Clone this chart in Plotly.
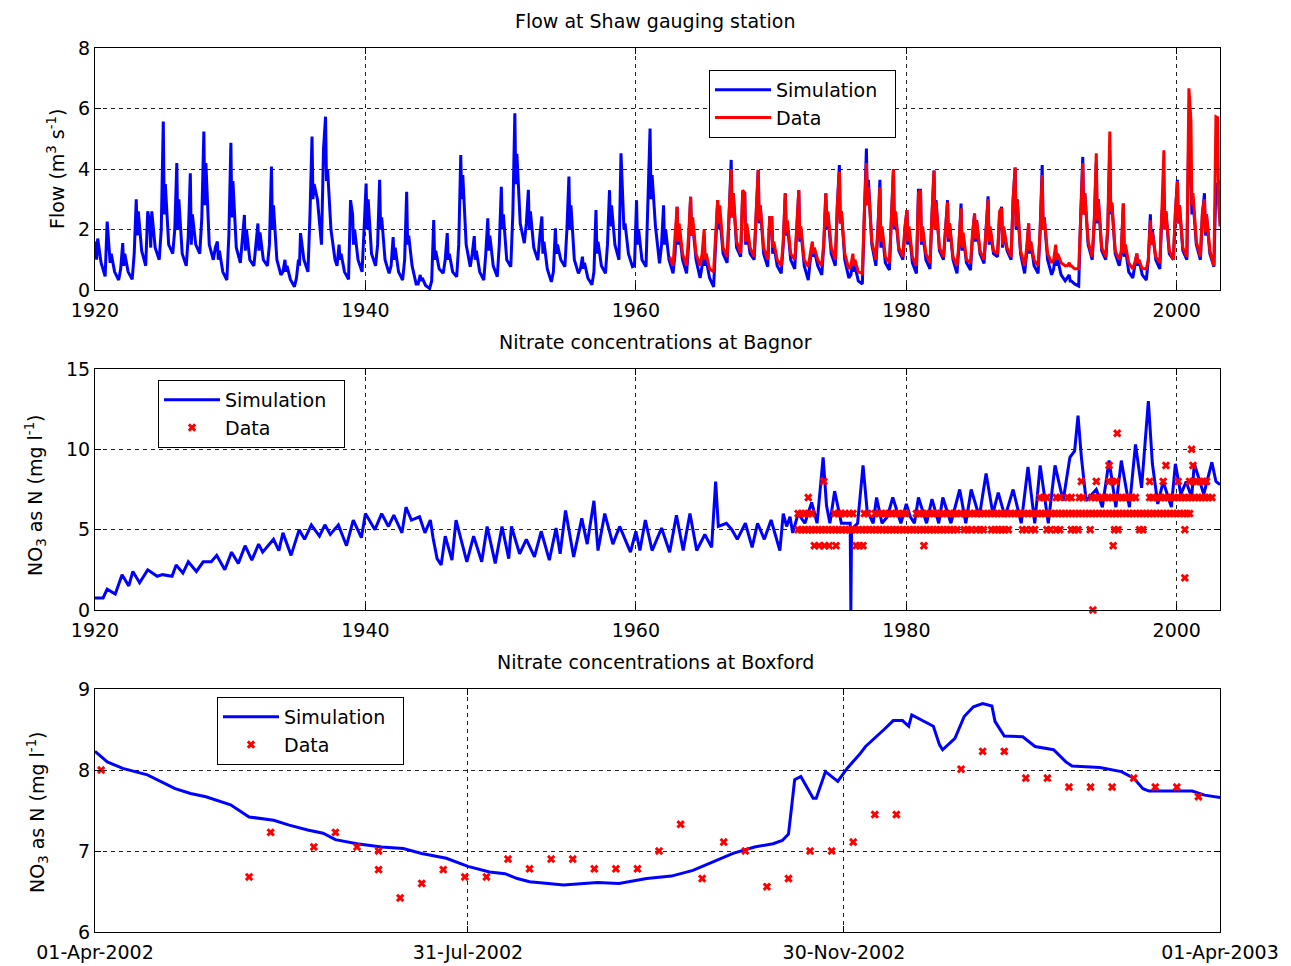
import plotly.graph_objects as go

# ---------------- Panel 1: Flow at Shaw (values read per hydrological year) ----------------
flow_years = list(range(1920, 2003))
# simulated flow: winter peak, dip, second peak, spring recession, autumn low, early-winter rise
sim_peak = [1.6,1.5,1.55,3.0,2.2,5.57,4.2,3.86,5.24,1.6, 4.87,2.48,2.2,4.08,1.0,1.0,5.07,5.73,1.5,2.5,
            3.52,3.64,1.75,3.25,0.5,2.31,1.88,4.46,1.78,2.37, 3.41,5.84,3.31,2.43,2.04,3.75,1.1,2.64,3.3,3.0,
            2.97,5.34,2.8,2.75,3.08,1.8,2.97,4.3,3.2,3.97, 2.4,3.2,3.3,1.5,3.2,4.13,1.0,4.68,3.64,4.0,
            2.64,3.3,3.95,2.97,2.86,2.53,3.1,2.75,4.05,2.2, 4.13,1.3,0.5,4.4,4.2,4.6,2.86,1.2,2.5,3.2,
            3.64,4.0,3.2]
sim_dip = [1.0,0.9,0.8,1.8,1.4,2.5,2.0,1.5,2.8,1.0, 2.4,1.3,1.3,2.0,0.6,0.8,3.0,3.6,1.0,1.5,
           2.0,2.0,1.0,1.5,0.3,1.0,1.0,3.0,1.0,1.3, 2.0,3.5,2.0,1.2,1.2,2.0,0.7,1.2,2.1,2.0,
           1.5,3.0,1.5,1.5,1.8,0.8,2.0,2.4,1.5,2.2, 1.2,1.8,1.6,1.1,2.0,2.2,0.6,3.0,1.4,2.0,
           1.5,1.5,2.0,1.6,1.3,1.6,1.5,1.4,2.0,1.2, 2.0,0.8,0.3,2.5,2.2,2.5,1.1,0.8,1.5,2.0,
           2.2,2.5,1.8]
sim_peak2 = [1.7,1.2,1.2,2.6,2.6,3.5,3.0,2.5,4.2,1.3, 3.6,2.0,1.9,2.8,0.8,1.88,3.5,4.0,1.2,2.0,
             3.0,2.4,1.4,1.8,0.4,1.3,1.2,3.8,1.3,1.8, 2.5,4.5,2.6,1.6,1.5,2.8,0.9,1.6,2.8,2.2,
             2.0,3.8,2.0,2.0,2.2,1.0,2.5,3.2,2.0,2.8, 1.5,2.2,2.0,1.3,2.5,2.6,0.8,3.64,2.0,2.5,
             2.0,2.0,2.97,2.2,1.8,2.3,2.0,2.0,3.0,1.6, 2.4,1.0,0.3,3.2,3.0,2.86,1.4,1.0,2.0,2.6,
             2.8,3.0,2.5]
sim_rec = [0.9,0.6,0.6,1.3,1.4,1.5,1.2,1.5,1.5,0.6, 1.4,1.0,1.0,1.0,0.35,1.0,3.0,2.0,0.6,1.0,
           1.2,1.0,0.6,0.8,0.15,0.7,0.6,1.5,0.6,0.8, 1.0,2.2,1.4,0.7,1.0,1.0,0.4,0.8,1.5,1.2,
           1.0,2.1,1.0,1.0,1.0,0.4,1.2,1.4,1.2,1.2, 0.8,1.0,0.8,0.8,1.2,1.0,0.3,1.5,0.9,1.3,
           0.9,1.0,1.3,1.0,0.9,1.2,1.2,1.3,1.2,0.8, 1.0,0.5,0.2,1.5,1.3,1.2,0.6,0.5,1.0,1.2,
           1.3,1.5,1.2]
sim_low = [0.45,0.33,0.35,0.8,1.0,1.2,0.8,1.2,1.0,0.33, 0.9,0.8,0.8,0.5,0.11,0.6,1.5,1.0,0.35,0.6,
           0.8,0.55,0.33,0.2,0.05,0.55,0.44,0.77,0.33,0.44, 0.77,1.55,0.99,0.27,0.77,0.55,0.17,0.55,1.0,0.77,
           0.77,0.88,0.55,0.55,0.4,0.1,0.9,1.1,1.0,0.77, 0.55,0.7,0.33,0.5,0.8,0.4,0.2,0.8,0.66,1.0,
           0.55,0.7,1.0,0.55,0.66,0.88,1.1,1.0,0.55,0.55, 0.5,0.3,0.13,1.0,1.0,0.8,0.4,0.33,0.7,1.0,
           1.0,1.0,0.77]
sim_rise = [2.26,0.7,1.2,2.6,2.0,2.0,1.8,2.4,1.4,1.8, 1.6,1.5,1.5,0.6,0.4,2.5,4.66,0.8,2.97,2.0,
            1.5,0.8,1.0,0.2,0.3,1.0,1.5,1.2,1.2,1.5, 2.5,2.2,1.8,0.6,2.0,0.7,0.6,1.5,4.52,0.8,
            3.5,1.5,1.2,1.5,0.8,1.5,2.5,3.2,2.5,2.4, 1.5,2.0,1.0,1.5,2.8,0.5,2.5,2.0,2.4,2.0,
            3.3,2.5,2.0,1.5,1.8,2.0,2.5,3.0,1.2,2.0, 0.7,0.4,2.5,2.2,2.0,1.2,0.8,1.0,2.5,2.5,
            5.5,2.5,3.5]
sim_head_t, sim_head_v = [1920.0], [1.2]
sim_tail_t, sim_tail_v = [2003.05, 2003.12, 2003.2], [3.5, 3.6, 3.5]

obs_years = list(range(1963, 2003))
obs_peak = [2.75,3.08,2.0,2.97,4.0,3.2,3.97,2.4,3.2,3.3, 1.6,3.2,3.9,1.2,4.2,3.4,4.0,2.64,3.3,3.95,
            2.9,2.7,2.5,3.0,2.7,4.05,2.2,3.8,1.5,0.9, 4.2,4.52,5.24,2.86,1.2,2.3,4.62,3.6,5.6,3.0]
obs_dip = [1.6,1.8,1.0,2.2,2.4,1.6,2.3,1.4,1.9,1.7, 1.2,2.1,2.2,0.8,2.8,1.6,2.1,1.6,1.6,2.0,
           1.7,1.4,1.7,1.6,1.5,2.1,1.3,2.0,1.0,0.8, 2.5,2.3,2.6,1.2,0.9,1.5,2.0,2.2,2.8,1.9]
obs_peak2 = [2.2,2.4,1.2,2.8,3.2,2.2,2.8,1.6,2.3,2.1, 1.4,2.6,2.6,1.0,3.4,2.1,2.6,2.1,2.1,2.9,
             2.2,1.9,2.3,2.1,2.1,3.0,1.6,2.4,1.2,0.8, 3.2,3.0,2.9,1.5,1.0,1.9,2.6,2.8,3.2,2.5]
obs_rec = [1.2,1.2,0.7,1.4,1.6,1.4,1.4,1.0,1.2,1.0, 1.0,1.4,1.2,0.6,1.6,1.1,1.4,1.1,1.2,1.4,
           1.1,1.0,1.3,1.3,1.4,1.3,1.0,1.2,0.9,0.7, 1.6,1.4,1.3,0.9,0.7,1.1,1.3,1.4,1.6,1.3]
obs_low = [0.8,0.8,0.6,1.1,1.2,1.1,1.0,0.8,1.0,0.77, 0.8,1.0,0.7,0.55,1.0,0.9,1.1,0.8,0.9,1.1,
           0.8,0.9,1.0,1.2,1.1,0.8,0.8,0.9,0.8,0.7, 1.1,1.1,1.0,0.7,0.7,0.9,1.0,1.1,1.1,0.8]
obs_rise = [1.8,1.2,1.8,2.6,3.3,2.6,2.4,1.6,2.1,1.2, 1.6,2.8,0.8,2.6,2.0,2.4,2.1,3.2,2.5,2.0,
            1.6,1.9,2.0,2.6,3.0,1.4,2.0,1.0,0.8,2.4, 2.3,2.1,1.3,0.9,1.0,2.6,2.6,6.67,2.6,5.73]
obs_head_t, obs_head_v = [1962.5, 1962.75, 1962.9], [1.1, 0.8, 1.8]
obs_tail_t, obs_tail_v = [2003.02, 2003.1, 2003.2], [5.7, 2.8, 2.1]

PHASE = [0.05, 0.12, 0.2, 0.45, 0.75, 0.9]

# ---------------- Panel 2: Nitrate at Bagnor ----------------
bag_sim_t = [1920.0,1920.6,1920.9,1921.5,1922.0,1922.5,1922.8,1923.3,1923.9,1924.6,1925.0,1925.7,1926.0,1926.5,
             1926.9,1927.5,1928.0,1928.6,1929.0,1929.6,1930.1,1930.6,1931.1,1931.6,1932.1,1932.4,1933.2,1933.6,
             1933.9,1934.5,1935.1,1935.5,1936.0,1936.6,1937.0,1937.4,1938.0,1938.6,1939.1,1939.7,1940.0,1940.7,
             1941.2,1941.7,1942.1,1942.7,1943.0,1943.4,1944.0,1944.4,1944.8,1945.0,1945.3,1945.6,1945.9,1946.4,
             1946.7,1947.5,1948.0,1948.6,1949.0,1949.6,1950.1,1950.6,1950.8,1951.4,1951.9,1952.5,1953.0,1953.6,
             1954.1,1954.4,1954.8,1955.4,1956.0,1956.4,1956.9,1957.2,1957.7,1958.3,1958.8,1959.6,1960.0,1960.3,
             1960.7,1961.2,1961.9,1962.5,1963.0,1963.5,1964.0,1964.5,1965.1,1965.6,1965.9,1966.1,1966.7,1967.1,
             1967.5,1968.1,1968.6,1969.0,1969.5,1970.0,1970.65,1970.9,1971.15,1971.4,1971.6,1972.0,1972.5,1973.0,
             1973.4,1973.85,1974.1,1974.35,1974.7,1975.2,1975.85,1975.9,1975.95,1976.4,1976.8,1977.1,1977.55,
             1977.8,1978.2,1978.6,1979.0,1979.6,1980.0,1980.3,1980.6,1980.9,1981.5,1981.9,1982.4,1982.7,1983.3,
             1983.95,1984.4,1984.8,1985.4,1985.9,1986.4,1986.8,1987.3,1987.9,1988.5,1989.0,1989.5,1989.9,1990.5,
             1991.0,1991.6,1992.1,1992.45,1992.7,1992.95,1993.3,1994.05,1994.5,1995.0,1995.5,1995.9,1996.5,
             1996.95,1997.4,1997.9,1998.2,1998.6,1999.0,1999.6,1999.9,2000.3,2000.7,2001.1,2001.3,2002.0,2002.6,
             2002.9,2003.2]
bag_sim_v = [0.75,0.75,1.3,1.0,2.2,1.5,2.4,1.7,2.5,2.1,2.2,2.1,2.8,2.3,
             3.0,2.4,3.0,3.0,3.4,2.5,3.6,2.9,4.0,3.1,4.1,3.6,4.4,3.7,
             4.8,3.4,5.0,4.4,5.3,4.6,5.3,4.7,5.3,4.0,5.6,4.5,6.0,5.0,
             6.0,5.2,5.9,4.8,6.4,5.6,5.8,4.8,5.6,4.5,3.2,2.8,4.6,3.1,
             5.6,3.0,4.6,3.0,5.2,2.9,5.2,3.2,5.2,3.5,4.4,3.3,4.9,3.1,
             5.1,3.5,6.2,3.3,5.7,4.1,6.8,3.7,6.0,4.1,5.2,3.6,4.9,3.7,
             5.6,3.7,5.1,3.6,5.9,3.7,6.0,3.7,4.7,3.9,8.0,5.2,5.4,5.0,
             4.4,5.4,3.9,5.4,4.4,5.6,3.7,6.0,5.2,5.8,4.8,6.0,5.4,6.7,
             5.4,9.5,6.5,5.4,7.4,5.4,5.4,0.0,5.0,5.4,9.0,6.2,5.4,
             7.0,5.4,5.8,7.0,5.4,6.6,5.8,5.4,7.0,5.4,6.9,5.4,7.0,5.4,
             7.5,5.4,7.5,5.8,8.5,6.0,7.3,5.8,7.5,5.4,8.9,5.4,9.0,5.4,
             9.0,6.8,9.5,9.9,12.1,9.5,6.8,7.5,6.4,9.3,6.4,9.3,6.4,
             10.3,7.6,13.0,9.1,6.6,8.0,6.4,9.1,7.2,8.0,7.0,9.1,7.2,9.2,
             8.0,7.8]

# observed nitrate (reported as whole mg/l), sample dates grouped by value
bag_obs_0_t = [1993.8]
bag_obs_2_t = [2000.6]
bag_obs_4_t = [1973.2, 1973.55, 1973.95, 1974.3, 1974.8, 1976.3, 1976.55, 1976.8, 1981.3, 1995.3]
bag_obs_5_t = [1972.0,1972.25,1972.5,1972.75,1973.0,1973.25,1973.5,1973.75,1974.0,1974.25,1974.5,1974.75,
               1975.0,1975.25,1975.5,1975.75,1976.0,1976.25,1976.5,1976.75,1977.0,1977.25,1977.5,1977.75,
               1978.0,1978.25,1978.5,1978.75,1979.0,1979.25,1979.5,1979.75,1980.0,1980.25,1980.5,1980.75,
               1981.0,1981.25,1981.5,1981.75,1982.0,1982.25,1982.5,1982.75,1983.0,1983.25,1983.5,1983.75,
               1984.3,1984.55,1984.8,1985.2,1985.45,1985.7,1986.3,1986.55,1986.8,1987.05,1987.3,1987.55,
               1988.6,1988.85,1989.25,1989.5,1990.4,1990.65,1991.1,1991.35,1992.2,1992.45,1992.7,1993.6,
               1995.4,1995.65,1997.25,1997.5,2000.6]
bag_obs_6_t = [1972.0,1972.25,1972.5,1972.75,1973.0,1974.7,1974.95,1975.2,1975.45,1975.8,1976.05,1976.9,1977.15,
               1977.7,1977.95,1978.2,1978.45,1978.7,1978.95,1979.2,1979.45,1979.7,1979.95,
               1980.75,1981.0,1981.25,1981.5,1981.75,1982.0,1982.25,1982.5,1982.75,1983.0,1983.25,1983.5,1983.75,
               1984.0,1984.25,1984.5,1984.75,1985.0,1985.25,1985.5,1985.75,1986.0,1986.25,1986.5,1986.75,
               1987.0,1987.25,1987.5,1987.75,1988.0,1988.25,1988.5,1988.75,1989.0,1989.25,1989.5,1989.75,
               1990.0,1990.25,1990.5,1990.75,1991.0,1991.25,1991.5,1991.75,1992.0,1992.25,1992.5,1992.75,
               1993.0,1993.25,1993.5,1993.75,1994.0,1994.25,1994.5,1994.75,1995.0,1995.25,1995.5,1995.75,
               1996.0,1996.25,1996.5,1996.75,1997.0,1997.25,1997.5,1997.75,1998.0,1998.25,1998.5,1998.75,
               1999.0,1999.25,1999.5,1999.75,2000.0,2000.25,2000.5,2000.75,2000.95]
bag_obs_7_t = [1972.75,1989.9,1990.15,1990.4,1991.1,1991.35,1991.95,1992.2,1992.8,1993.05,
               1993.7,1993.95,1994.2,1994.45,1994.7,1994.95,1995.2,1995.45,1995.7,1995.95,1996.2,1996.45,
               1996.7,1996.95,1998.0,1998.2,1998.6,1998.85,1999.1,1999.35,1999.6,1999.85,2000.1,2000.35,
               2000.6,2000.85,2001.1,2001.35,2001.6,2001.85,2002.1,2002.35,2002.6]
bag_obs_8_t = [1973.9,1992.95,1994.05,1995.0,1995.25,1995.5,1998.0,1999.0,2000.1,2000.95,2001.2,2001.45,
               2001.7,2001.95,2002.2]
bag_obs_9_t = [1995.0, 1999.2, 2001.2]
bag_obs_10_t = [2001.1]
bag_obs_11_t = [1995.6]

# ---------------- Panel 3: Nitrate at Boxford ----------------
box_sim_date = ["2002-04-01","2002-04-05","2002-04-10","2002-04-18","2002-04-27","2002-05-02","2002-05-07",
                "2002-05-15","2002-05-21","2002-05-29","2002-06-03","2002-06-09","2002-06-14","2002-06-18",
                "2002-06-25","2002-07-03","2002-07-10","2002-07-16","2002-07-24","2002-07-31","2002-08-07",
                "2002-08-12","2002-08-16","2002-08-20","2002-08-26","2002-08-31","2002-09-11","2002-09-18",
                "2002-09-27","2002-10-05","2002-10-12","2002-10-19","2002-10-25","2002-11-01","2002-11-07",
                "2002-11-10","2002-11-12","2002-11-13","2002-11-14","2002-11-16","2002-11-20","2002-11-21",
                "2002-11-24","2002-11-28","2002-12-01","2002-12-05","2002-12-07","2002-12-13","2002-12-16",
                "2002-12-19","2002-12-21","2002-12-22","2002-12-25","2002-12-27","2002-12-29","2002-12-31",
                "2003-01-01","2003-01-05","2003-01-08","2003-01-11","2003-01-14","2003-01-17","2003-01-18",
                "2003-01-21","2003-01-27","2003-01-31","2003-02-06","2003-02-10","2003-02-12","2003-02-21",
                "2003-02-28","2003-03-04","2003-03-07","2003-03-09","2003-03-23","2003-03-27","2003-04-01"]
box_sim_no3 = [8.23,8.10,8.02,7.94,7.77,7.71,7.67,
               7.57,7.42,7.38,7.32,7.26,7.22,7.14,
               7.09,7.05,7.03,6.97,6.91,6.81,6.74,
               6.72,6.66,6.62,6.60,6.58,6.61,6.60,
               6.66,6.69,6.76,6.87,6.97,7.05,7.09,
               7.13,7.21,7.54,7.88,7.92,7.65,7.65,
               7.98,7.86,8.02,8.19,8.29,8.50,8.61,
               8.61,8.54,8.68,8.62,8.58,8.54,8.31,
               8.25,8.39,8.66,8.78,8.82,8.79,8.60,
               8.42,8.41,8.29,8.25,8.10,8.05,8.03,
               7.98,7.90,7.77,7.74,7.74,7.69,7.66]
box_obs_date = ["2002-04-03","2002-05-21","2002-05-28","2002-06-11","2002-06-18","2002-06-25","2002-07-02",
                "2002-07-02","2002-07-09","2002-07-16","2002-07-23","2002-07-30","2002-08-06","2002-08-13",
                "2002-08-20","2002-08-27","2002-09-03","2002-09-10","2002-09-17","2002-09-24","2002-10-01",
                "2002-10-08","2002-10-15","2002-10-22","2002-10-29","2002-11-05","2002-11-12","2002-11-19",
                "2002-11-26","2002-12-03","2002-12-10","2002-12-17","2003-01-07","2003-01-14","2003-01-21",
                "2003-01-28","2003-02-04","2003-02-11","2003-02-18","2003-02-25","2003-03-04","2003-03-11",
                "2003-03-18","2003-03-25"]
box_obs_no3 = [8.0,6.68,7.23,7.05,7.23,7.05,6.77,
               7.0,6.42,6.6,6.77,6.68,6.68,6.9,
               6.78,6.9,6.9,6.78,6.78,6.78,7.0,
               7.33,6.66,7.11,7.0,6.56,6.66,7.0,
               7.0,7.11,7.45,7.45,8.01,8.23,8.23,
               7.9,7.9,7.79,7.79,7.79,7.9,7.79,
               7.79,7.67]

# axis ticks
year_ticks = [1920, 1940, 1960, 1980, 2000]
box_tick_dates = ["2002-04-01", "2002-07-31", "2002-11-30", "2003-04-01"]
box_tick_text = ["01-Apr-2002", "31-Jul-2002", "30-Nov-2002", "01-Apr-2003"]


def build_series(years, cols, head_t, head_v, tail_t, tail_v):
    t, v = list(head_t), list(head_v)
    for i, y in enumerate(years):
        for ph, col in zip(PHASE, cols):
            t.append(y + ph)
            v.append(col[i])
    return t + list(tail_t), v + list(tail_v)


sim_t, sim_v = build_series(flow_years, [sim_peak, sim_dip, sim_peak2, sim_rec, sim_low, sim_rise],
                            sim_head_t, sim_head_v, sim_tail_t, sim_tail_v)
obs_t, obs_v = build_series(obs_years, [obs_peak, obs_dip, obs_peak2, obs_rec, obs_low, obs_rise],
                            obs_head_t, obs_head_v, obs_tail_t, obs_tail_v)

bag_obs_t, bag_obs_v = [], []
for lvl, ts in [(0, bag_obs_0_t), (2, bag_obs_2_t), (4, bag_obs_4_t), (5, bag_obs_5_t), (6, bag_obs_6_t),
                (7, bag_obs_7_t), (8, bag_obs_8_t), (9, bag_obs_9_t), (10, bag_obs_10_t), (11, bag_obs_11_t)]:
    bag_obs_t += ts
    bag_obs_v += [lvl] * len(ts)

BLUE = "#0000FF"
RED = "#FF0000"
FONT = "DejaVu Sans"
FS = 19
LW = 3
SIM_NAME = "Simulation\u00a0\u00a0"

fig = go.Figure()
fig.add_trace(go.Scatter(x=sim_t, y=sim_v, mode="lines", name=SIM_NAME, line=dict(color=BLUE, width=LW),
                         xaxis="x", yaxis="y", legend="legend"))
fig.add_trace(go.Scatter(x=obs_t, y=obs_v, mode="lines", name="Data", line=dict(color=RED, width=LW),
                         xaxis="x", yaxis="y", legend="legend"))
fig.add_trace(go.Scatter(x=bag_sim_t, y=bag_sim_v, mode="lines", name=SIM_NAME,
                         line=dict(color=BLUE, width=LW), xaxis="x2", yaxis="y2", legend="legend2"))
fig.add_trace(go.Scatter(x=bag_obs_t, y=bag_obs_v, mode="markers", name="Data", cliponaxis=False,
                         marker=dict(symbol="x", size=7.5, color=RED, line=dict(width=0)),
                         xaxis="x2", yaxis="y2", legend="legend2"))
fig.add_trace(go.Scatter(x=box_sim_date, y=box_sim_no3, mode="lines", name=SIM_NAME,
                         line=dict(color=BLUE, width=LW), xaxis="x3", yaxis="y3", legend="legend3"))
fig.add_trace(go.Scatter(x=box_obs_date, y=box_obs_no3, mode="markers", name="Data", cliponaxis=False,
                         marker=dict(symbol="x", size=7.5, color=RED, line=dict(width=0)),
                         xaxis="x3", yaxis="y3", legend="legend3"))

# page body adds an 8 px offset; work in screen pixels of the 1291x966 window
OFF = 8
W, H = 1291 - OFF, 966 - OFF
PL, PR, PT, PB = 95, 1220, 48, 932          # plot-area edges on screen
ML, MT = PL - OFF, PT - OFF
MR, MB = W - (PR - OFF), H - (PB - OFF)
PW, PH = W - ML - MR, H - MT - MB


def py(pix):
    return (H - MB - (pix - OFF)) / PH


def px(pix):
    return (pix - OFF - ML) / PW


axis_common = dict(showline=True, linecolor="black", linewidth=1, mirror="ticks", ticks="inside",
                   ticklen=6, tickcolor="black", showgrid=True, gridcolor="#222222", gridwidth=1,
                   griddash="4px,4px", zeroline=False, automargin=False,
                   tickfont=dict(family=FONT, size=FS, color="black"))
xaxis_common = dict(axis_common, ticklabelstandoff=3)

leg_common = dict(xanchor="left", yanchor="top", bgcolor="white", bordercolor="black", borderwidth=1,
                  font=dict(family=FONT, size=FS, color="black"), tracegroupgap=0, itemwidth=56)

fig.update_layout(
    width=W, height=H, margin=dict(l=ML, r=MR, t=MT, b=MB, autoexpand=False),
    paper_bgcolor="white", plot_bgcolor="white",
    font=dict(family=FONT, size=FS, color="black"),
    xaxis=dict(domain=[0, 1], anchor="y", range=[1920, 2003.2], tickvals=year_ticks, **xaxis_common),
    yaxis=dict(domain=[py(290), 1], anchor="x", range=[0, 8], tickvals=[0, 2, 4, 6, 8], **axis_common),
    xaxis2=dict(domain=[0, 1], anchor="y2", range=[1920, 2003.2], tickvals=year_ticks, **xaxis_common),
    yaxis2=dict(domain=[py(610), py(369)], anchor="x2", range=[0, 15], tickvals=[0, 5, 10, 15], **axis_common),
    xaxis3=dict(domain=[0, 1], anchor="y3", type="date", range=["2002-04-01", "2003-04-01"],
                tickvals=box_tick_dates, ticktext=box_tick_text, **xaxis_common),
    yaxis3=dict(domain=[0, py(689)], anchor="x3", range=[6, 9], tickvals=[6, 7, 8, 9], **axis_common),
    legend=dict(x=px(709), y=py(70), **leg_common),
    legend2=dict(x=px(158), y=py(380), **leg_common),
    legend3=dict(x=px(217), y=py(697), **leg_common),
)

titles = [("Flow at Shaw gauging station", 21), ("Nitrate concentrations at Bagnor", 342),
          ("Nitrate concentrations at Boxford", 662)]
for txt, ypix in titles:
    fig.add_annotation(text=txt, xref="paper", yref="paper", x=px(655), y=py(ypix), xanchor="center",
                       yanchor="middle", showarrow=False, font=dict(family=FONT, size=FS, color="black"))

ylabels = [("Flow (m<sup>3</sup> s<sup>-1</sup>)", 56, 169),
           ("NO<sub>3</sub> as N (mg l<sup>-1</sup>)", 35, 495),
           ("NO<sub>3</sub> as N (mg l<sup>-1</sup>)", 37, 812)]
for txt, xpix, ypix in ylabels:
    fig.add_annotation(text=txt, xref="paper", yref="paper", x=px(xpix), y=py(ypix), xanchor="center",
                       yanchor="middle", textangle=-90, showarrow=False,
                       font=dict(family=FONT, size=FS, color="black"))

fig.write_html("out.html")
